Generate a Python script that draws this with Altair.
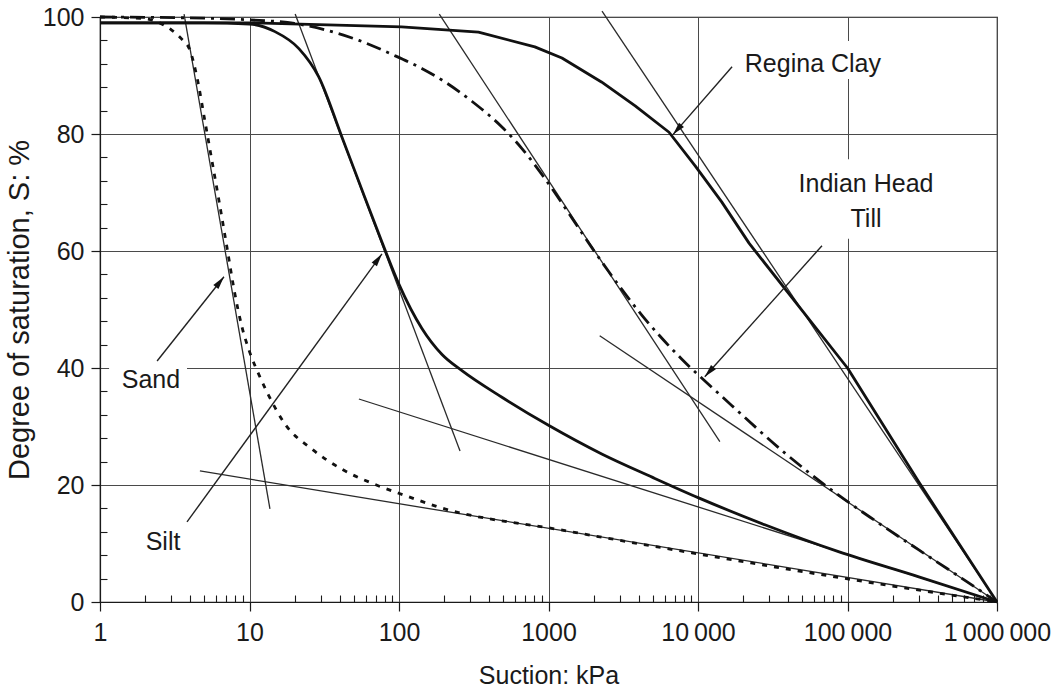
import json
import math

import altair as alt
import pandas as pd

WIDTH, HEIGHT = 897, 585
FONT = "Liberation Sans"
INK = "#1a1a1a"
GRID = "#4a4a4a"
FS = 25

# Soil-water characteristic curves: suction (kPa) vs degree of saturation (%)
sand_suction = [1, 2, 2.5, 3.0, 3.5, 4.0, 4.47, 5.01, 5.62, 6.31, 7.08, 7.94, 8.91, 10, 11.5, 13.5,
                17.3, 26, 41.5, 69, 110, 186, 1290, 9100, 87000, 1e6]
sand_saturation = [100, 99.7, 99, 97.8, 96.3, 94.3, 89.5, 82.5, 75.3, 68, 60.5, 53, 47, 42.8, 39, 35.2,
                   30.4, 26.2, 22.7, 20.1, 18.2, 16.2, 12.2, 8.4, 4.2, 0]

silt_suction = [1, 5, 10, 14.8, 21.4, 29, 41.5, 59, 77, 100, 142, 194, 265, 488, 1000, 2270,
                4970, 10100, 28000, 87000, 300000, 1e6]
silt_saturation = [99, 99, 98.8, 97.5, 94.6, 89.8, 79.5, 69.2, 61.5, 54.3, 46.8, 42.3, 39.5, 35, 30.2, 25.3,
                   21.3, 17.8, 13.2, 8.6, 4.3, 0]

till_suction = [1, 5, 10, 20, 32, 54, 90, 142, 203, 307, 488, 660, 945, 1370, 1970, 2540, 4220,
                7800, 12500, 16800, 38000, 81500, 153000, 300000, 610000, 1e6]
till_saturation = [100, 99.8, 99.5, 98.9, 97.8, 96, 93.6, 91.2, 88.9, 85.6, 81.2, 77.6, 72.4, 66.4, 60.4, 56.4, 49,
                   41.5, 36.6, 33.6, 25.5, 18.8, 13.9, 8.9, 3.7, 0]

clay_suction = [1, 10, 104, 340, 810, 1230, 2260, 3800, 6400, 9600, 14400, 22000, 100000, 300000, 1e6]
clay_saturation = [99, 99, 98.3, 97.4, 94.9, 93.0, 88.9, 84.8, 80.3, 74.5, 68.4, 61.3, 40, 20.5, 0]

# Construction (tangent) lines: start / end points
tangent_s1 = [3.65, 4.66, 20.2, 53.9, 186, 2200, 2280]
tangent_S1 = [100.5, 22.4, 100.5, 34.7, 100.5, 45.5, 101]
tangent_s2 = [13.7, 1e6, 256, 1e6, 14000, 1e6, 1e6]
tangent_S2 = [15.9, 0, 25.8, 0, 27.4, 0, 0]

# Annotation labels
label_text = ["Regina Clay", "Indian Head", "Till", "Sand", "Silt"]
label_s = [58700, 133000, 133000, 2.19, 2.64]
label_S = [92.0, 71.4, 65.4, 37.9, 10.3]

# White boxes behind labels
box_s1 = [16900, 39400, 1.15]
box_s2 = [198600, 463000, 3.82]
box_S1 = [95.9, 75.7, 41.5]
box_S2 = [89.4, 62.1, 34.7]

# Leader arrows: tail -> head
arrow_tail_s = [16900, 67500, 2.41, 3.82]
arrow_tail_S = [91.5, 60.9, 41.2, 13.7]
arrow_head_s = [6800, 11100, 6.75, 76.9]
arrow_head_S = [79.9, 38.5, 55.6, 59.5]

decades = [1, 10, 100, 1000, 10000, 100000, 1000000]
decade_labels = ["1", "10", "100", "1000", "10\u2009000", "100\u2009000", "1\u2009000\u2009000"]
minor_x = [d * 10 ** k for k in range(6) for d in range(2, 10)]
major_y = [0, 20, 40, 60, 80, 100]
minor_y = [v for v in range(4, 100, 4) if v % 20 != 0]

xscale = alt.Scale(type="log", domain=[1, 1e6], nice=False)
yscale = alt.Scale(domain=[0, 100], nice=False)

label_expr = json.dumps(decade_labels, ensure_ascii=False) + "[round(log(datum.value)/LN10)]"


def xs(field, axis=None):
    return alt.X(field, scale=xscale, axis=axis)


def ys(field, axis=None):
    return alt.Y(field, scale=yscale, axis=axis)


# Main axes with gridlines
x_axis = alt.Axis(values=decades, labelExpr=label_expr, grid=True, gridColor=GRID, gridWidth=1,
                  orient="bottom", tickSize=9, tickColor=INK, tickWidth=1.2, domainColor=INK,
                  domainWidth=1.2, labelFont=FONT, labelFontSize=FS, labelColor=INK, labelPadding=9,
                  labelFlush=False, labelOverlap=False, title="Suction: kPa",
                  titleFont=FONT, titleFontSize=FS, titleFontWeight="normal", titleColor=INK,
                  titlePadding=18)
y_axis = alt.Axis(values=major_y, grid=True, gridColor=GRID, gridWidth=1, orient="left",
                  tickSize=9, tickColor=INK, tickWidth=1.2, domainColor=INK, domainWidth=1.2,
                  labelFont=FONT, labelFontSize=FS, labelColor=INK, labelPadding=7,
                  title="Degree of saturation, S: %", titleFont=FONT, titleFontSize=29,
                  titleFontWeight="normal", titleColor=INK, titlePadding=8)

frame = pd.DataFrame({"s": [1, 1e6], "S": [0, 100]})
axes_layer = alt.Chart(frame).mark_point(opacity=0).encode(
    x=xs("s:Q", x_axis), y=ys("S:Q", y_axis)
)

# Minor ticks drawn inward from the bottom and left edges
minor_x_axis = alt.Axis(values=minor_x, orient="bottom", labels=False, domain=False, grid=False,
                        tickSize=7, tickColor=INK, tickWidth=1.1, offset=-7, title=None)
minor_y_axis = alt.Axis(values=minor_y, orient="left", labels=False, domain=False, grid=False,
                        tickSize=7, tickColor=INK, tickWidth=1.1, offset=-7, title=None)
minor_layer = alt.Chart(frame).mark_point(opacity=0).encode(
    x=xs("s:Q", minor_x_axis), y=ys("S:Q", minor_y_axis)
)

boxes = pd.DataFrame({"s1": box_s1, "s2": box_s2, "S1": box_S1, "S2": box_S2})
box_layer = alt.Chart(boxes).mark_rect(fill="white", stroke=None).encode(
    x=xs("s1:Q"), x2="s2:Q", y=ys("S1:Q"), y2="S2:Q"
)

tangents = pd.DataFrame({"s1": tangent_s1, "S1": tangent_S1, "s2": tangent_s2, "S2": tangent_S2})
tangent_layer = alt.Chart(tangents).mark_rule(color="#2a2a2a", strokeWidth=1.3).encode(
    x=xs("s1:Q"), y=ys("S1:Q"), x2="s2:Q", y2="S2:Q"
)


def curve(suction, saturation, dash, interp):
    df = pd.DataFrame({"s": suction, "S": saturation})
    kw = dict(color="#111111", strokeWidth=2.8, strokeCap="butt", strokeJoin="round",
              interpolate=interp)
    if dash:
        kw["strokeDash"] = dash
    return alt.Chart(df).mark_line(**kw).encode(x=xs("s:Q"), y=ys("S:Q"))


curves = [
    curve(clay_suction, clay_saturation, None, "linear"),
    curve(silt_suction, silt_saturation, None, "monotone"),
    curve(till_suction, till_saturation, [15, 6, 3, 6], "monotone"),
    curve(sand_suction, sand_saturation, [5, 7], "monotone"),
]

# Arrow shafts and heads
px_per_decade = WIDTH / 6
px_per_pct = HEIGHT / 100
angles, head_cs, head_cS = [], [], []
for ts, tS, hs, hS in zip(arrow_tail_s, arrow_tail_S, arrow_head_s, arrow_head_S):
    dx = (math.log10(hs) - math.log10(ts)) * px_per_decade
    dy = -(hS - tS) * px_per_pct
    length = math.hypot(dx, dy)
    ux, uy = dx / length, dy / length
    angles.append(math.degrees(math.atan2(dx, -dy)) % 360)
    back = 6.5
    head_cs.append(10 ** (math.log10(hs) - back * ux / px_per_decade))
    head_cS.append(hS + back * uy / px_per_pct)

arrows = pd.DataFrame({"s1": arrow_tail_s, "S1": arrow_tail_S, "s2": arrow_head_s, "S2": arrow_head_S,
                       "cs": head_cs, "cS": head_cS, "angle": angles})
arrow_shaft = alt.Chart(arrows).mark_rule(color="#222222", strokeWidth=1.4).encode(
    x=xs("s1:Q"), y=ys("S1:Q"), x2="s2:Q", y2="S2:Q"
)
arrow_head = alt.Chart(arrows).mark_point(
    shape="M0,-1L0.5,1L-0.5,1Z", filled=True, size=170, color="#111111", opacity=1, strokeWidth=0
).encode(x=xs("cs:Q"), y=ys("cS:Q"), angle=alt.Angle("angle:Q", scale=None))

labels = pd.DataFrame({"text": label_text, "s": label_s, "S": label_S})
label_layer = alt.Chart(labels).mark_text(
    font=FONT, fontSize=FS, color=INK, align="center", baseline="middle"
).encode(x=xs("s:Q"), y=ys("S:Q"), text="text:N")

chart = alt.layer(
    axes_layer, minor_layer, box_layer, tangent_layer, *curves, arrow_shaft, arrow_head, label_layer
).resolve_axis(x="independent", y="independent").properties(
    width=WIDTH, height=HEIGHT, background="white"
).configure_view(stroke=INK, strokeWidth=1.2)

chart.save("out.html", embed_options={"renderer": "svg", "actions": False})
